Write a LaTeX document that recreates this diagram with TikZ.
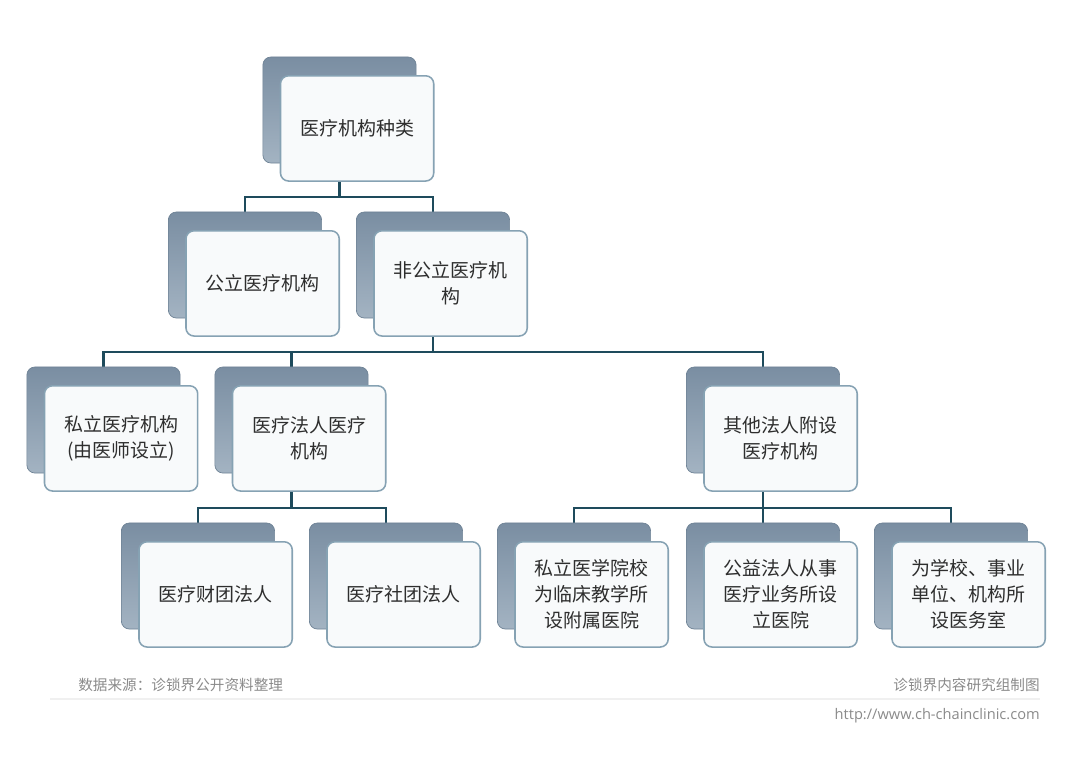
\documentclass[tikz,border=0pt]{standalone}
\usepackage{fontspec}
\setmainfont{Noto Sans CJK SC}
\newfontfamily\urlfont{Open Sans}
\usetikzlibrary{backgrounds}
\definecolor{backtop}{HTML}{7A8EA2}
\definecolor{backbot}{HTML}{A3B3C2}
\definecolor{backedge}{HTML}{6E8295}
\definecolor{frontedge}{HTML}{86A2B3}
\definecolor{frontfill}{HTML}{F8FAFB}
\definecolor{linkcol}{HTML}{1E4B5C}
\definecolor{notecol}{HTML}{8A8A8A}

\begin{document}
\begin{tikzpicture}[x=0.025cm,y=-0.025cm,
  back/.style={draw=backedge,line width=0.5pt,rounded corners=0.2cm,top color=backtop,bottom color=backbot,
    minimum width=3.83cm,minimum height=2.65cm,inner sep=0pt},
  front/.style={draw=frontedge,line width=1.1pt,rounded corners=0.2cm,fill=frontfill,
    minimum width=3.83cm,minimum height=2.63cm,inner sep=0pt,xshift=0.44cm,yshift=-0.46cm,
    align=center,text=black!82,font=\fontsize{13.5}{18.4}\selectfont},
  link/.style={draw=linkcol,line width=1.8pt},
  note/.style={text=notecol,font=\fontsize{10.4}{12}\selectfont,inner sep=0pt}]
  \useasboundingbox (0,0) rectangle (1080,758);
  % level 1
  \node[back] (kind) at (339.5,110) {};
  \node[front] (kindf) at (kind) {医疗机构种类};
  % level 2
  \node[back] (pub) at (245,265) {};
  \node[front] (pubf) at (pub) {公立医疗机构};
  \node[back] (nonpub) at (433,265) {};
  \node[front] (nonpubf) at (nonpub) {非公立医疗机\\构};
  % level 3
  \node[back] (priv) at (103.5,420) {};
  \node[front] (privf) at (priv) {私立医疗机构\\(由医师设立)};
  \node[back] (legal) at (291.5,420) {};
  \node[front] (legalf) at (legal) {医疗法人医疗\\机构};
  \node[back] (other) at (763,420) {};
  \node[front] (otherf) at (other) {其他法人附设\\医疗机构};
  % level 4
  \node[back] (found) at (198,576) {};
  \node[front] (foundf) at (found) {医疗财团法人};
  \node[back] (assoc) at (386,576) {};
  \node[front] (assocf) at (assoc) {医疗社团法人};
  \node[back] (school) at (574,576) {};
  \node[front] (schoolf) at (school) {私立医学院校\\为临床教学所\\设附属医院};
  \node[back] (welfare) at (763,576) {};
  \node[front] (welfaref) at (welfare) {公益法人从事\\医疗业务所设\\立医院};
  \node[back] (unit) at (951,576) {};
  \node[front] (unitf) at (unit) {为学校、事业\\单位、机构所\\设医务室};
  % connectors
  \coordinate (j1) at (339.5,197);
  \coordinate (j2) at (433,352);
  \coordinate (j3) at (291.5,508);
  \coordinate (j4) at (763,508);
  \begin{scope}[on background layer]
    \draw[link] (kind) -- (j1) -| (pub.north);
    \draw[link] (j1) -| (nonpub.north);
    \draw[link] (nonpub) -- (j2) -| (priv.north);
    \draw[link] (j2) -| (legal.north);
    \draw[link] (j2) -| (other.north);
    \draw[link] (legal) -- (j3) -| (found.north);
    \draw[link] (j3) -| (assoc.north);
    \draw[link] (other) -- (j4) -| (school.north);
    \draw[link] (j4) -| (welfare.north);
    \draw[link] (j4) -| (unit.north);
  \end{scope}
  % footer
  \node[note,anchor=west] (src) at (78,685) {数据来源：诊锁界公开资料整理};
  \node[note,anchor=east] (made) at (1040,685) {诊锁界内容研究组制图};
  \draw[black!6,line width=0.8pt] (50,699) -- (1040,699);
  \node[note,anchor=east,font=\urlfont\fontsize{10.4}{12}\selectfont] (url) at (1040,716) {http://www.ch-chainclinic.com};
\end{tikzpicture}
\end{document}
